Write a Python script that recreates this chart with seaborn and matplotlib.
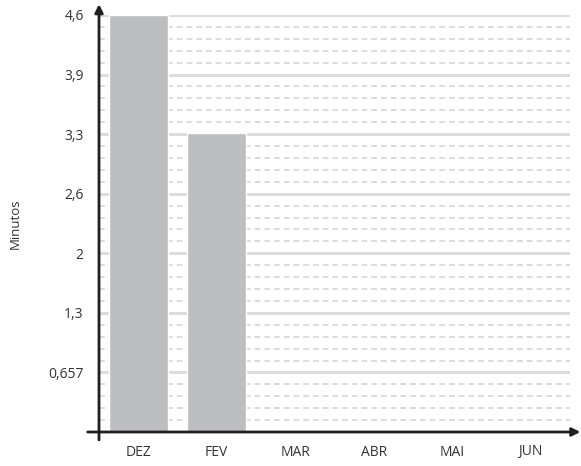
import matplotlib
matplotlib.use("Agg")
import matplotlib.pyplot as plt
from matplotlib.ticker import FixedLocator
import seaborn as sns
import pandas as pd

# data
months = ["DEZ", "FEV", "MAR", "ABR", "MAI", "JUN"]
minutes = [4.6, 3.3, 0, 0, 0, 0]
y_max = 4.6
tick_labels = ["0,657", "1,3", "2", "2,6", "3,3", "3,9", "4,6"]

df = pd.DataFrame({"mes": months, "minutos": minutes})

sns.set_theme(style="white")
plt.rcParams["font.family"] = ["Open Sans", "DejaVu Sans"]

fig = plt.figure(figsize=(5.81, 4.66), dpi=100)
ax = fig.add_axes([99 / 581, 1 - 432 / 466, 471 / 581, 417 / 466])

sns.barplot(data=df, x="mes", y="minutos", color="#bdbec0", saturation=1,
            width=0.75, ax=ax, zorder=3)

ax.set_xlim(-0.5, 5.5)
ax.set_ylim(0, y_max)

# 7 labelled lines, 4 dashed lines between each pair
major = [y_max * k / 7 for k in range(1, 8)]
minor = [y_max * k / 35 for k in range(1, 35) if k % 5 != 0]
ax.yaxis.set_major_locator(FixedLocator(major))
ax.set_yticklabels(tick_labels)
ax.yaxis.set_minor_locator(FixedLocator(minor))

ax.grid(axis="y", which="major", color="#dcdcdc", lw=2.2, linestyle="-", zorder=1)
ax.grid(axis="y", which="minor", color="#dcdcdc", lw=1.4, linestyle=(0, (3, 2)), zorder=1)
ax.grid(axis="x", visible=False)
ax.set_axisbelow(True)

for s in ax.spines.values():
    s.set_visible(False)

ax.tick_params(axis="both", which="both", length=0, colors="#333333", labelsize=10)
ax.tick_params(axis="y", pad=11)
ax.tick_params(axis="x", pad=9)

ax.set_xlabel("")
ax.set_ylabel("Minutos", fontsize=9.5, color="#333333")
ax.yaxis.set_label_coords(-0.163, 0.5)

axis_color = "#231f20"
ax.annotate("", xy=(0, 1.026), xytext=(0, -0.019), xycoords="axes fraction",
            textcoords="axes fraction", annotation_clip=False,
            arrowprops=dict(arrowstyle="-|>", color=axis_color, lw=2,
                            mutation_scale=12, shrinkA=0, shrinkB=0))
ax.annotate("", xy=(1.022, 0), xytext=(-0.024, 0), xycoords="axes fraction",
            textcoords="axes fraction", annotation_clip=False,
            arrowprops=dict(arrowstyle="-|>", color=axis_color, lw=2,
                            mutation_scale=12, shrinkA=0, shrinkB=0))

fig.savefig("out.png", dpi=100)
